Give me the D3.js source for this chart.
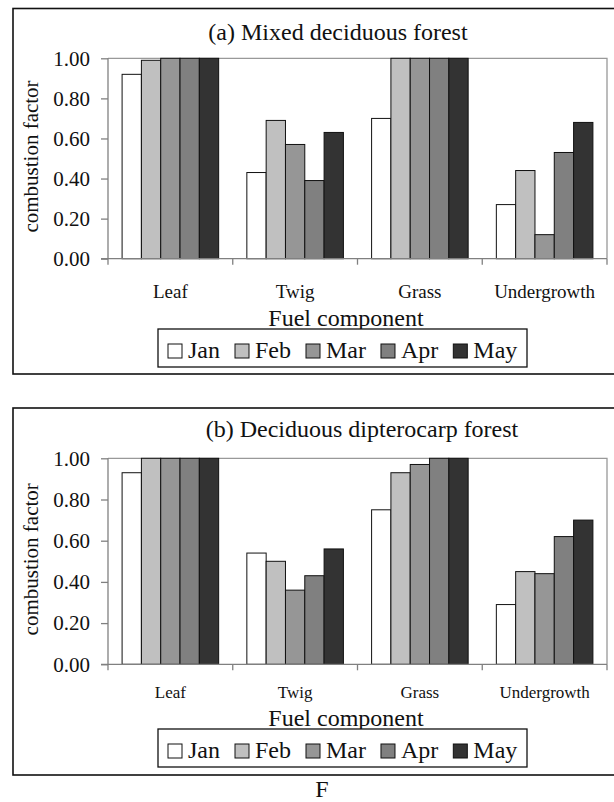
<!DOCTYPE html>
<html>
<head>
<meta charset="utf-8">
<script src="https://cdn.jsdelivr.net/npm/d3@7"></script>
<style>
  body { margin: 0; background: white; }
  svg text { font-family: 'Liberation Serif', 'Times New Roman', Times, serif !important; fill: #111; }
</style>
</head>
<body>
<div id="container"></div>
<script>
/* DATA */
const categories = ["Leaf", "Twig", "Grass", "Undergrowth"];
const months = ["Jan", "Feb", "Mar", "Apr", "May"];
const yTicks = [0, 0.2, 0.4, 0.6, 0.8, 1.0];

// (a) mixed deciduous forest, one array per month
const mixedJan = [0.92, 0.43, 0.70, 0.27];
const mixedFeb = [0.99, 0.69, 1.00, 0.44];
const mixedMar = [1.00, 0.57, 1.00, 0.12];
const mixedApr = [1.00, 0.39, 1.00, 0.53];
const mixedMay = [1.00, 0.63, 1.00, 0.68];

// (b) deciduous dipterocarp forest
const dipJan = [0.93, 0.54, 0.75, 0.29];
const dipFeb = [1.00, 0.50, 0.93, 0.45];
const dipMar = [1.00, 0.36, 0.97, 0.44];
const dipApr = [1.00, 0.43, 1.00, 0.62];
const dipMay = [1.00, 0.56, 1.00, 0.70];

/* CONSTANTS */
const width = 614, height = 802;
const colors = ["#ffffff", "#c0c0c0", "#969696", "#808080", "#333333"];
const serif = "'Liberation Serif', 'Times New Roman', serif";

const svg = d3.select("#container")
  .append("svg")
  .attr("width", width)
  .attr("height", height)
  .attr("font-family", serif)
  .style("background-color", "white");

const color = d3.scaleOrdinal().domain(months).range(colors);

function drawPanel(opt) {
  const g = svg.append("g");

  // outer frame (right side runs off the page)
  g.append("rect")
    .attr("x", 13).attr("y", opt.boxTop)
    .attr("width", 640).attr("height", opt.boxBottom - opt.boxTop)
    .attr("fill", "none").attr("stroke", "#111").attr("stroke-width", 1.6);

  const xScale = d3.scaleBand()
    .domain(categories)
    .range([108, 607])
    .paddingInner(0.226)
    .paddingOuter(0.113);

  const xInner = d3.scaleBand()
    .domain(months)
    .range([0, xScale.bandwidth()]);

  const yScale = d3.scaleLinear()
    .domain([0, 1])
    .range([opt.plotBottom, opt.plotTop]);

  // top and right edges of plot area
  g.append("path")
    .attr("d", `M108,${opt.plotTop}H607V${opt.plotBottom}`)
    .attr("fill", "none").attr("stroke", "#999").attr("stroke-width", 1.3);

  // bars
  const rows = categories.map((c, i) => ({
    cat: c,
    vals: months.map((m, j) => ({ month: m, value: opt.series[j][i] }))
  }));

  g.append("g")
    .selectAll("g")
    .data(rows)
    .enter()
    .append("g")
    .attr("transform", d => `translate(${xScale(d.cat)},0)`)
    .selectAll("rect")
    .data(d => d.vals)
    .enter()
    .append("rect")
      .attr("x", d => xInner(d.month))
      .attr("y", d => yScale(d.value))
      .attr("width", xInner.bandwidth())
      .attr("height", d => yScale(0) - yScale(d.value))
      .attr("fill", d => color(d.month))
      .attr("stroke", "#111")
      .attr("stroke-width", 1);

  // y axis
  const yAxis = d3.axisLeft(yScale)
    .tickValues(yTicks)
    .tickFormat(d3.format(".2f"))
    .tickSize(7)
    .tickPadding(11);
  const ya = g.append("g")
    .attr("transform", "translate(108,0)")
    .call(yAxis)
    .attr("font-family", serif)
    .attr("font-size", 21);
  ya.selectAll("path, line").attr("stroke", "#808080").attr("stroke-width", 1.3);
  ya.select(".domain").attr("d", `M0,${opt.plotTop}V${opt.plotBottom}`);
  ya.selectAll("text").attr("fill", "#111");

  // x axis: line with ticks on the category boundaries
  const xa = g.append("g");
  xa.append("line")
    .attr("x1", 101).attr("x2", 607)
    .attr("y1", opt.plotBottom).attr("y2", opt.plotBottom)
    .attr("stroke", "#808080").attr("stroke-width", 1.3);
  xa.selectAll("line.tick")
    .data(d3.range(categories.length + 1))
    .enter()
    .append("line")
      .attr("class", "tick")
      .attr("x1", i => 108 + i * xScale.step())
      .attr("x2", i => 108 + i * xScale.step())
      .attr("y1", opt.plotBottom)
      .attr("y2", opt.plotBottom + 6)
      .attr("stroke", "#808080").attr("stroke-width", 1.3);

  xa.selectAll("text")
    .data(categories)
    .enter()
    .append("text")
      .attr("x", d => xScale(d) + xScale.bandwidth() / 2)
      .attr("y", opt.catY)
      .attr("text-anchor", "middle")
      .attr("font-size", opt.catSize)
      .text(d => d);

  // titles
  g.append("text")
    .attr("x", opt.titleX).attr("y", opt.titleY)
    .attr("text-anchor", "middle")
    .attr("font-size", 24)
    .text(opt.title);

  g.append("text")
    .attr("transform", `translate(38,${(opt.plotTop + opt.plotBottom) / 2 - 2}) rotate(-90)`)
    .attr("text-anchor", "middle")
    .attr("font-size", 21)
    .text("combustion factor");

  g.append("text")
    .attr("x", 346).attr("y", opt.fuelY)
    .attr("text-anchor", "middle")
    .attr("font-size", 24)
    .text("Fuel component");

  // legend
  const lg = g.append("g");
  lg.append("rect")
    .attr("x", 158).attr("y", opt.legTop)
    .attr("width", 369).attr("height", 38)
    .attr("fill", "white").attr("stroke", "#111").attr("stroke-width", 1.3);
  let cx = 168;
  months.forEach(m => {
    lg.append("rect")
      .attr("x", cx).attr("y", opt.legTop + 15)
      .attr("width", 14).attr("height", 14)
      .attr("fill", color(m)).attr("stroke", "#111").attr("stroke-width", 1);
    const t = lg.append("text")
      .attr("x", cx + 20).attr("y", opt.legTop + 29)
      .attr("font-size", 24)
      .text(m);
    cx += 20 + t.node().getComputedTextLength() + 15;
  });
}

drawPanel({
  title: "(a) Mixed deciduous forest",
  series: [mixedJan, mixedFeb, mixedMar, mixedApr, mixedMay],
  boxTop: 8.5, boxBottom: 374,
  plotTop: 58.3, plotBottom: 258.7,
  titleX: 338, titleY: 40,
  catY: 298, catSize: 19,
  fuelY: 326, legTop: 329
});

drawPanel({
  title: "(b) Deciduous dipterocarp forest",
  series: [dipJan, dipFeb, dipMar, dipApr, dipMay],
  boxTop: 408, boxBottom: 775,
  plotTop: 458.3, plotBottom: 664.3,
  titleX: 362, titleY: 437,
  catY: 698, catSize: 17,
  fuelY: 726, legTop: 729
});

svg.append("text")
  .attr("x", 322).attr("y", 797)
  .attr("text-anchor", "middle")
  .attr("font-size", 24)
  .text("F");
</script>
</body>
</html>
